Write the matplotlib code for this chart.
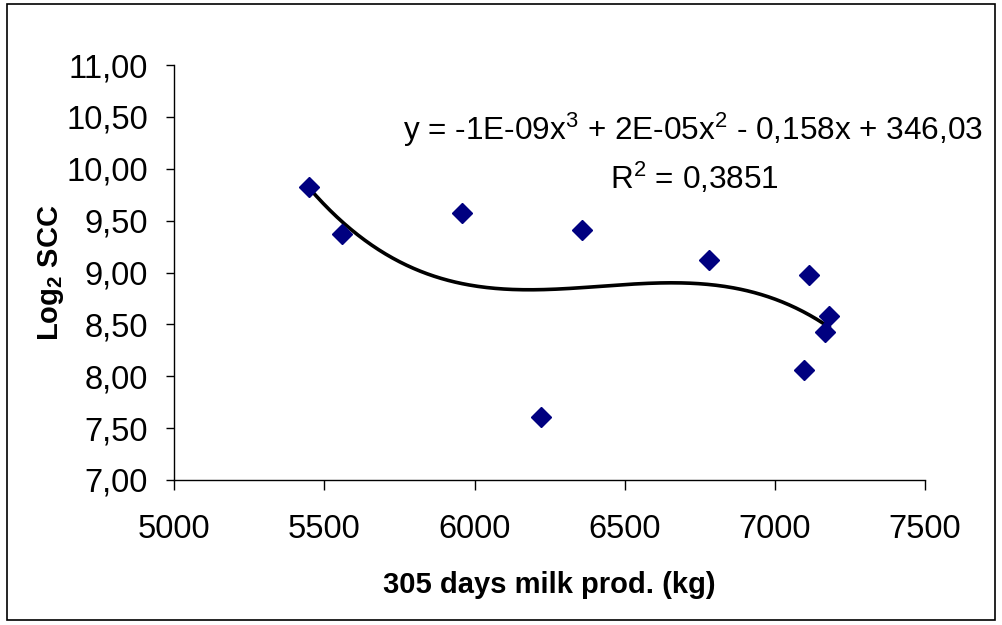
import numpy as np
import matplotlib
matplotlib.use("Agg")
import matplotlib.pyplot as plt
from matplotlib.patches import Rectangle

plt.rcParams["font.family"] = ["Liberation Sans", "DejaVu Sans"]
plt.rcParams["mathtext.fontset"] = "custom"
plt.rcParams["mathtext.rm"] = "Liberation Sans"
plt.rcParams["mathtext.it"] = "Liberation Sans"
plt.rcParams["mathtext.bf"] = "Liberation Sans:bold"

# 305-day milk production (kg) and log2 somatic cell count
milk_kg = [5449, 5559, 5959, 6222, 6358, 6781, 7114, 7181, 7168, 7098]
log2_scc = [9.82, 9.37, 9.57, 7.61, 9.41, 9.12, 8.98, 8.58, 8.43, 8.06]

x_ticks = [5000, 5500, 6000, 6500, 7000, 7500]
y_ticks = [7.0, 7.5, 8.0, 8.5, 9.0, 9.5, 10.0, 10.5, 11.0]
y_tick_labels = [f"{v:.2f}".replace(".", ",") for v in y_ticks]

equation = r"y = -1E-09x$^{3}$ + 2E-05x$^{2}$ - 0,158x + 346,03"
r_squared = r"R$^{2}$ = 0,3851"

fig = plt.figure(figsize=(10.02, 6.25), dpi=100)
ax = fig.add_axes([0.174, 0.232, 0.749, 0.664])

# cubic trend line fitted on the points
coef = np.polyfit(milk_kg, log2_scc, 3)
xs = np.linspace(min(milk_kg), max(milk_kg), 300)
ax.plot(xs, np.polyval(coef, xs), color="black", lw=2.6, zorder=2)
ax.plot(milk_kg, log2_scc, ls="none", marker="D", ms=10.5, color="#000080", zorder=3)

ax.set_xlim(5000, 7500)
ax.set_ylim(7, 11)
ax.set_xticks(x_ticks)
ax.set_yticks(y_ticks)
ax.set_yticklabels(y_tick_labels)
ax.tick_params(axis="both", labelsize=23.5, direction="out", width=1, colors="black")
ax.tick_params(axis="x", length=7.5, pad=17)
ax.tick_params(axis="y", length=6, pad=13)
for side in ("top", "right"):
    ax.spines[side].set_visible(False)
for side in ("left", "bottom"):
    ax.spines[side].set_linewidth(1)

ax.set_xlabel("305 days milk prod. (kg)", fontsize=21, fontweight="bold", labelpad=19)
ax.set_ylabel(r"Log$_\mathbf{2}$ SCC", fontsize=21, fontweight="bold", labelpad=0)

ax.text(0.691, 0.843, equation, transform=ax.transAxes, fontsize=22.7, ha="center", va="center")
ax.text(0.693, 0.728, r_squared, transform=ax.transAxes, fontsize=22.7, ha="center", va="center")

fig.patches.append(Rectangle((0.007, 0.008), 0.986, 0.985, transform=fig.transFigure,
                             fill=False, edgecolor="black", lw=1.2))

fig.savefig("out.png", dpi=100)
